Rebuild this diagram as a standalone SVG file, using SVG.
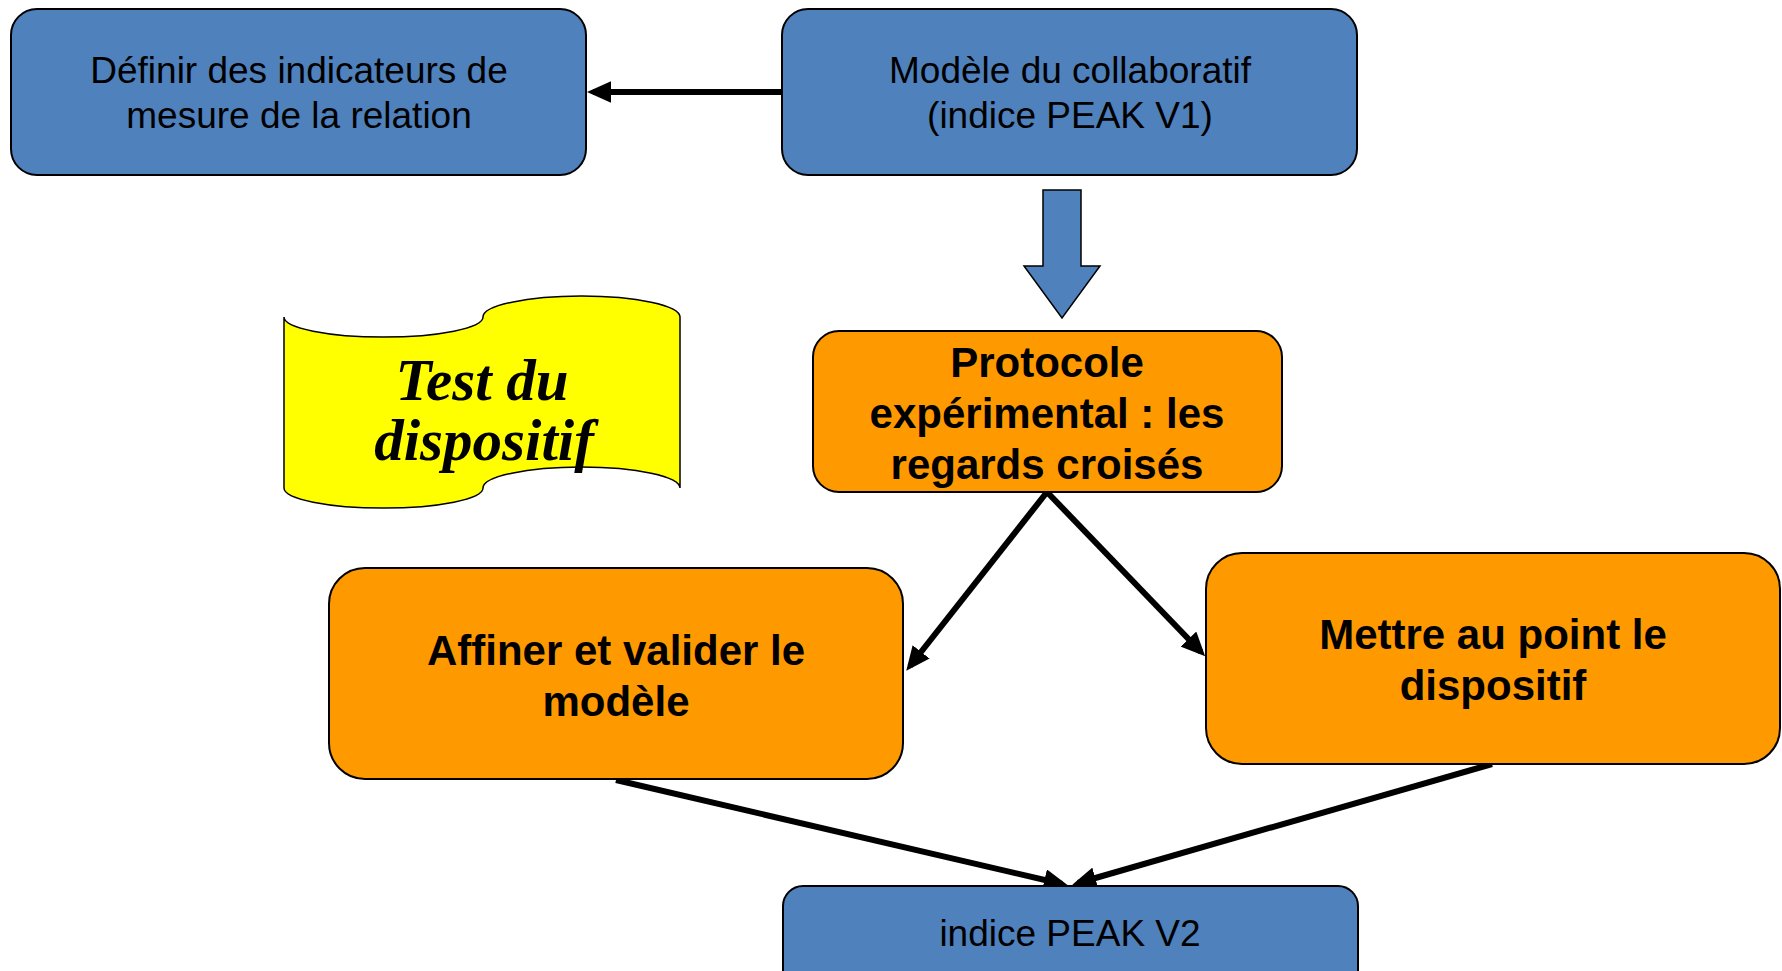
<svg xmlns="http://www.w3.org/2000/svg" width="1782" height="971" viewBox="0 0 1782 971">
<style>
.blue{fill:#4F81BD;stroke:#000;stroke-width:2}
.orange{fill:#FF9900;stroke:#000;stroke-width:2}
.t{font-family:"Liberation Sans",Arial,sans-serif;font-size:37px;fill:#000;text-anchor:middle}
.b{font-family:"Liberation Sans",Arial,sans-serif;font-size:42px;font-weight:bold;fill:#000;text-anchor:middle}
.s{font-family:"Liberation Serif","Times New Roman",serif;font-size:59px;font-weight:bold;font-style:italic;fill:#000;text-anchor:middle}
.c{stroke:#000;stroke-width:6;fill:none}
</style>
<defs>
<marker id="ah" markerWidth="4" markerHeight="3.6" refX="3" refY="1.8" orient="auto" markerUnits="strokeWidth">
<path d="M0,0 L4,1.8 L0,3.6 Z" fill="#000"/>
</marker>
</defs>
<rect width="1782" height="971" fill="#fff"/>
<g id="connectors">
<line class="c" x1="782" y1="92" x2="593" y2="92" marker-end="url(#ah)"/>
<line class="c" x1="1047" y1="492" x2="910" y2="666" marker-end="url(#ah)"/>
<line class="c" x1="1047" y1="492" x2="1201" y2="652" marker-end="url(#ah)"/>
<line class="c" x1="616" y1="780" x2="1062" y2="884" marker-end="url(#ah)"/>
<line class="c" x1="1492" y1="764" x2="1078" y2="883" marker-end="url(#ah)"/>
<path id="blockarrow" d="M1043,190 L1081,190 L1081,266 L1100,266 L1062,318 L1024,266 L1043,266 Z" fill="#4F81BD" stroke="#000" stroke-width="1.5"/>
</g>
<g id="node-definir">
<rect class="blue" x="11" y="9" width="575" height="166" rx="26"/>
<text class="t" x="299" y="83">Définir des indicateurs de</text>
<text class="t" x="299" y="128">mesure de la relation</text>
</g>
<g id="node-modele">
<rect class="blue" x="782" y="9" width="575" height="166" rx="26"/>
<text class="t" x="1070" y="83">Modèle du collaboratif</text>
<text class="t" x="1070" y="128">(indice PEAK V1)</text>
</g>
<g id="node-test">
<path d="M284,317 A99.5,20 0 0,0 483,317 A98.5,21 0 0,1 680,317 L680,488 A98.5,21 0 0,0 483,488 A99.5,20 0 0,1 284,488 Z" fill="#FFFF00" stroke="#000" stroke-width="1.5"/>
<text class="s" x="482" y="400">Test du</text>
<text class="s" x="484" y="460">dispositif</text>
</g>
<g id="node-protocole">
<rect class="orange" x="813" y="331" width="469" height="161" rx="26"/>
<text class="b" x="1047" y="377">Protocole</text>
<text class="b" x="1047" y="428">expérimental : les</text>
<text class="b" x="1047" y="479">regards croisés</text>
</g>
<g id="node-affiner">
<rect class="orange" x="329" y="568" width="574" height="211" rx="36"/>
<text class="b" x="616" y="665">Affiner et valider le</text>
<text class="b" x="616" y="716">modèle</text>
</g>
<g id="node-mettre">
<rect class="orange" x="1206" y="553" width="574" height="211" rx="36"/>
<text class="b" x="1493" y="649">Mettre au point le</text>
<text class="b" x="1493" y="700">dispositif</text>
</g>
<g id="node-v2">
<rect class="blue" x="783" y="886" width="575" height="110" rx="20"/>
<text class="t" x="1070" y="946">indice PEAK V2</text>
</g>
</svg>
